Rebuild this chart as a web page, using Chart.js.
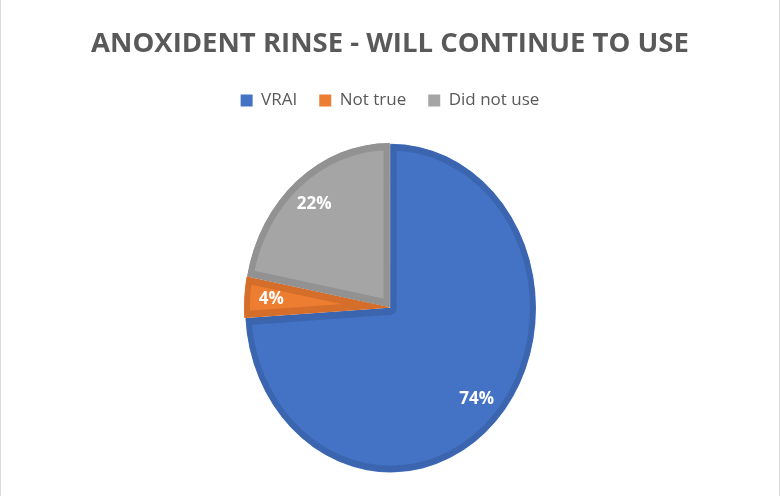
<!DOCTYPE html>
<html>
<head>
<meta charset="utf-8">
<script src="https://cdn.jsdelivr.net/npm/chart.js@4.4.1/dist/chart.umd.min.js"></script>
<style>
  html, body { margin: 0; padding: 0; background: #fff; }
  #wrap { width: 780px; height: 496px; position: relative; }
</style>
</head>
<body>
<div id="wrap"><canvas id="pieChart" width="780" height="496"></canvas></div>
<script>
// data
const categories = ['VRAI', 'Not true', 'Did not use'];
const shares = [74, 4, 22];
const fills = ['#4472C4', '#ED7D31', '#A5A5A5'];
const edges = ['#3C65B0', '#D56E2A', '#929292'];

const STRETCH_Y = 1.13; // excel drew the pie a bit taller than wide

// stretch the pie vertically and put the % labels on
const ovalPie = {
    id: 'ovalPie',
    beforeDatasetsDraw(chart) {
        const ctx = chart.ctx;
        const cy = (chart.chartArea.top + chart.chartArea.bottom) / 2;
        ctx.save();
        ctx.translate(0, cy);
        ctx.scale(1, STRETCH_Y);
        ctx.translate(0, -cy);
    },
    afterDatasetsDraw(chart) {
        const ctx = chart.ctx;
        ctx.restore();
        const cy = (chart.chartArea.top + chart.chartArea.bottom) / 2;
        const arcs = chart.getDatasetMeta(0).data;
        ctx.save();
        ctx.fillStyle = '#ffffff';
        ctx.font = 'bold 17px "Open Sans", sans-serif';
        ctx.textAlign = 'center';
        ctx.textBaseline = 'middle';
        arcs.forEach((arc, i) => {
            const p = arc.getProps(['x', 'y', 'startAngle', 'endAngle', 'outerRadius']);
            const mid = (p.startAngle + p.endAngle) / 2;
            const r = p.outerRadius * 0.82;
            const x = p.x + Math.cos(mid) * r;
            const y = cy + (p.y + Math.sin(mid) * r - cy) * STRETCH_Y;
            ctx.fillText(shares[i] + '%', x, y);
        });
        ctx.restore();
    }
};

// thin grey frame round the chart
const frame = {
    id: 'frame',
    afterDraw(chart) {
        const ctx = chart.ctx;
        ctx.save();
        ctx.strokeStyle = '#D9D9D9';
        ctx.lineWidth = 1;
        ctx.strokeRect(0.5, -1, chart.width - 1, chart.height + 2);
        ctx.restore();
    }
};

new Chart(document.getElementById('pieChart'), {
    type: 'pie',
    data: {
        labels: categories,
        datasets: [{
            data: shares,
            backgroundColor: fills,
            borderColor: edges,
            borderWidth: 6,
            borderAlign: 'inner',
            offset: 3
        }]
    },
    options: {
        responsive: false,
        animation: false,
        events: [],
        radius: 145,
        layout: { padding: 0 },
        plugins: {
            title: {
                display: true,
                text: 'ANOXIDENT RINSE - WILL CONTINUE TO USE',
                color: '#595959',
                font: { family: '"Open Sans", sans-serif', size: 27.5, weight: 'bold' },
                padding: { top: 28, bottom: 9 }
            },
            legend: {
                position: 'top',
                labels: {
                    color: '#595959',
                    font: { family: '"Open Sans", sans-serif', size: 17 },
                    boxWidth: 12,
                    boxHeight: 12,
                    padding: 22,
                    // plain filled squares, no slice outline in the key
                    generateLabels(chart) {
                        return Chart.overrides.pie.plugins.legend.labels.generateLabels(chart)
                            .map(item => Object.assign(item, { lineWidth: 0, strokeStyle: item.fillStyle }));
                    }
                }
            },
            tooltip: { enabled: false }
        }
    },
    plugins: [ovalPie, frame]
});
</script>
</body>
</html>
